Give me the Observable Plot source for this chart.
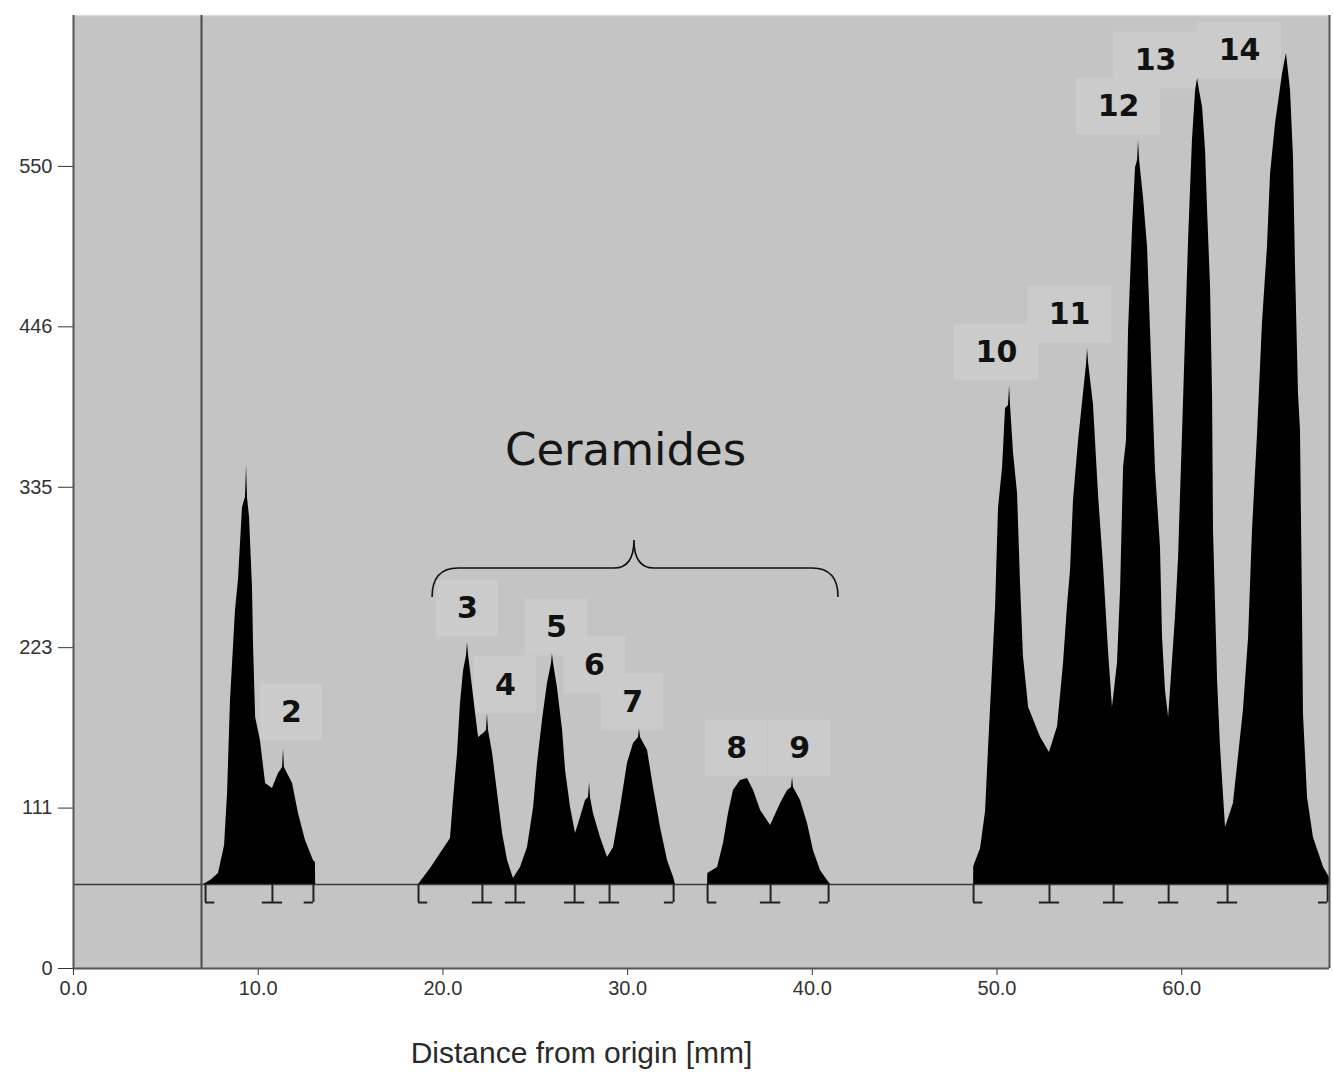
<!DOCTYPE html>
<html><head><meta charset="utf-8">
<script src="https://cdn.jsdelivr.net/npm/d3@7"></script>
<script src="https://cdn.jsdelivr.net/npm/@observablehq/plot@0.6"></script>
<style>body{margin:0;background:#fff} #chart svg{display:block}</style>
</head><body><div id="chart"></div>
<script>
// ---- axis values ----
const xTicks = [0, 10, 20, 30, 40, 50, 60];
const yTickValues = [0, 111.6, 223.2, 334.8, 446.4, 558];
const yTickLabels = ["0", "111", "223", "335", "446", "550"];
const xLabel = "Distance from origin [mm]";

// ---- reference lines ----
const baselineLevel = 58.4;
const originX = 6.93;

// ---- densitometric profile (distance mm, intensity), one array per integrated zone ----
const zone1 = [[7.04,58.4],[7.42,61.2],[7.85,66.1],[8.18,85.6],[8.34,121.8],[8.50,186.5],[8.77,249.1],[8.93,270.0],[9.15,320.7],[9.31,327.7],[9.37,350.0],[9.42,327.7],[9.53,313.8],[9.69,265.1],[9.75,223.3],[9.86,174.6],[10.12,158.6],[10.40,128.7],[10.77,125.2],[11.10,135.7],[11.32,139.8],[11.37,153.1],[11.42,139.8],[11.86,128.7],[12.18,107.8],[12.56,89.1],[12.99,75.2],[13.10,73.8],[13.11,58.4]];
const zone2 = [[18.68,58.4],[19.33,69.6],[19.87,80.0],[20.41,90.4],[20.57,116.9],[20.79,149.6],[20.95,184.4],[21.12,207.3],[21.28,217.8],[21.33,226.8],[21.39,217.8],[21.49,207.3],[21.77,177.4],[21.93,160.7],[22.20,163.5],[22.36,165.6],[22.41,177.4],[22.47,165.6],[22.69,149.6],[22.96,121.8],[23.23,93.9],[23.50,75.1],[23.82,62.6],[24.20,70.3],[24.58,84.2],[24.91,112.0],[25.12,142.6],[25.39,172.5],[25.66,198.3],[25.88,212.2],[25.93,219.2],[25.99,212.2],[26.20,195.5],[26.48,165.6],[26.64,137.8],[26.91,112.0],[27.18,93.9],[27.45,105.1],[27.72,116.9],[27.88,119.0],[27.94,129.4],[27.99,119.0],[28.15,107.8],[28.53,91.1],[28.91,77.2],[29.24,84.2],[29.62,112.0],[29.99,142.6],[30.32,156.5],[30.59,160.7],[30.64,167.0],[30.70,160.7],[31.08,151.7],[31.40,125.9],[31.78,98.1],[32.16,75.1],[32.49,63.3],[32.59,58.4]];
const zone3 = [[34.33,58.4],[34.34,66.1],[34.87,70.3],[35.19,87.0],[35.46,107.8],[35.73,123.8],[36.11,130.8],[36.49,132.2],[36.82,123.8],[37.20,109.9],[37.74,99.5],[38.28,114.8],[38.66,123.8],[38.87,125.9],[38.93,132.9],[38.98,125.9],[39.36,116.9],[39.74,100.9],[40.06,82.1],[40.44,68.2],[40.82,61.2],[40.99,58.4]];
const zone4 = [[48.73,58.4],[48.74,71.0],[49.11,83.5],[49.38,109.2],[49.54,153.1],[49.76,209.4],[49.92,251.2],[50.08,320.0],[50.30,348.6],[50.46,389.6],[50.62,391.7],[50.68,405.6],[50.73,391.7],[50.89,359.0],[51.11,330.5],[51.27,268.6],[51.43,217.1],[51.71,181.6],[52.36,160.7],[52.84,150.3],[53.28,168.4],[53.60,212.2],[53.82,253.3],[53.98,276.9],[54.14,325.6],[54.41,366.7],[54.68,400.1],[54.85,420.9],[54.90,431.4],[54.96,420.9],[55.22,392.4],[55.50,328.4],[55.77,279.0],[56.04,219.9],[56.25,181.6],[56.52,212.2],[56.69,263.7],[56.85,348.6],[57.01,367.4],[57.12,443.9],[57.34,515.6],[57.50,557.3],[57.61,562.2],[57.66,576.1],[57.72,562.2],[57.93,536.4],[58.15,501.6],[58.31,443.9],[58.47,386.1],[58.58,346.5],[58.85,292.9],[58.96,230.3],[59.12,193.4],[59.29,174.6],[59.39,193.4],[59.66,244.2],[59.83,286.0],[59.93,327.7],[60.04,370.8],[60.21,441.8],[60.37,506.5],[60.58,576.1],[60.75,610.9],[60.86,619.2],[60.96,610.9],[61.13,599.0],[61.29,569.1],[61.40,527.4],[61.56,473.8],[61.67,397.3],[61.72,304.7],[61.94,200.4],[62.10,153.8],[62.37,98.1],[62.80,114.8],[63.34,179.5],[63.62,230.3],[63.83,304.7],[64.10,370.8],[64.37,448.8],[64.64,501.6],[64.81,553.1],[65.08,587.9],[65.46,622.7],[65.67,636.6],[65.89,610.9],[66.05,564.3],[66.16,487.7],[66.32,400.1],[66.43,374.3],[66.54,247.0],[66.59,177.4],[66.81,119.0],[67.13,91.1],[67.68,70.3],[68.0,63.3]];

// ---- integration boundary markers (mm) ----
const markerStart = [7.15, 18.68, 34.33, 48.73];
const markerMid = [10.77, 22.14, 23.93, 27.13, 29.02, 37.74, 52.84, 56.31, 59.29, 62.48];
const markerEnd = [12.99, 32.49, 40.88, 67.9];
const markerLow = 45.9;

// ---- peak labels ----
const peakNames = ["2", "3", "4", "5", "6", "7", "8", "9", "10", "11", "12", "13", "14"];
const peakLabelX = [11.80, 21.33, 23.39, 26.15, 28.21, 30.27, 35.90, 39.31, 49.97, 53.93, 56.58, 58.58, 63.13];
const peakLabelY = [178.1, 250.5, 196.9, 237.2, 210.8, 185.1, 153.1, 153.1, 428.6, 455.0, 599.7, 631.7, 638.7];

// ---- ceramide group annotation ----
const groupName = "Ceramides";
const groupNameX = 29.89, groupNameY = 360.6;
const braceStart = 19.44, braceEnd = 41.42, braceTip = 30.37;
const braceEndLevel = 258.1, braceLineLevel = 278.3, braceTipLevel = 297.8;

// ---- build tables ----
const profile = [zone1, zone2, zone3, zone4].flatMap((z, i) => z.map(([x, y]) => ({x, y, zone: i})));
const labels = peakNames.map((t, i) => ({t, x: peakLabelX[i], y: peakLabelY[i]}));
const boxHalfW = d => d.t.length > 1 ? 2.28 : 1.68;
const boxHalfH = 19.8;

function brace(index, scales) {
  if (!scales || typeof scales.x !== "function") return null;
  const x = scales.x, y = scales.y;
  const x0 = x(braceStart), x1 = x(braceEnd), xt = x(braceTip);
  const yb = y(braceEndLevel), yl = y(braceLineLevel), yt = y(braceTipLevel);
  const r = 26, r2 = 20;
  const p = d3.path();
  p.moveTo(x0, yb);
  p.quadraticCurveTo(x0, yl, x0 + r, yl);
  p.lineTo(xt - r2, yl);
  p.quadraticCurveTo(xt, yl, xt, yt);
  p.quadraticCurveTo(xt, yl, xt + r2, yl);
  p.lineTo(x1 - r, yl);
  p.quadraticCurveTo(x1, yl, x1, yb);
  return d3.create("svg:path").attr("d", p.toString()).attr("fill", "none")
    .attr("stroke", "#111").attr("stroke-width", 1.6).node();
}

const chart = Plot.plot({
  width: 1333,
  height: 1083,
  marginLeft: 73,
  marginRight: 4,
  marginTop: 15,
  marginBottom: 115,
  style: {fontFamily: "Liberation Sans, Arial, sans-serif", fontSize: "20px", color: "#333", background: "#fff"},
  x: {domain: [0, 68], ticks: xTicks, tickFormat: d3.format(".1f"), tickSize: 7, tickPadding: 5, label: null},
  y: {domain: [0, 663], ticks: yTickValues, tickFormat: d => yTickLabels[yTickValues.indexOf(d)], tickSize: 15, tickPadding: 6, label: null},
  marks: [
    Plot.frame({fill: "#c4c4c4", stroke: null}),
    Plot.ruleY([663], {stroke: "#dcdcdc", strokeWidth: 1.5}),
    Plot.rect(labels, {x1: d => d.x - boxHalfW(d), x2: d => d.x + boxHalfW(d), y1: d => d.y - boxHalfH, y2: d => d.y + boxHalfH, fill: "#cbcbcb"}),
    Plot.areaY(profile, {x: "x", y1: baselineLevel, y2: "y", z: "zone", fill: "#000", curve: "linear"}),
    Plot.ruleY([baselineLevel], {stroke: "#3a3a3a", strokeWidth: 1.6}),
    Plot.ruleX([originX], {stroke: "#4a4a4a", strokeWidth: 2}),
    Plot.ruleX([...markerStart, ...markerMid, ...markerEnd], {y1: baselineLevel, y2: markerLow, stroke: "#222", strokeWidth: 2}),
    Plot.ruleY(markerStart, {y: () => markerLow, x1: d => d, x2: d => d + 0.5, stroke: "#222", strokeWidth: 2}),
    Plot.ruleY(markerMid, {y: () => markerLow, x1: d => d - 0.55, x2: d => d + 0.55, stroke: "#222", strokeWidth: 2}),
    Plot.ruleY(markerEnd, {y: () => markerLow, x1: d => d - 0.5, x2: d => d, stroke: "#222", strokeWidth: 2}),
    Plot.ruleX([0, 68], {stroke: "#555", strokeWidth: 2}),
    Plot.ruleY([0], {stroke: "#555", strokeWidth: 2}),
    Plot.text(labels, {x: "x", y: "y", text: "t", fontSize: 30, fontWeight: "bold", fontFamily: "DejaVu Sans, Verdana, sans-serif", fill: "#111"}),
    Plot.text([groupName], {x: () => groupNameX, y: () => groupNameY, fontSize: 45, fontFamily: "DejaVu Sans, Verdana, sans-serif", fill: "#151515"}),
    brace,
    Plot.text([xLabel], {frameAnchor: "bottom", dx: -120, dy: 94, fontSize: 30, fill: "#2a2a2a", fontFamily: "Liberation Sans, Arial, sans-serif"})
  ]
});
document.getElementById("chart").appendChild(chart);
</script>
</body></html>
